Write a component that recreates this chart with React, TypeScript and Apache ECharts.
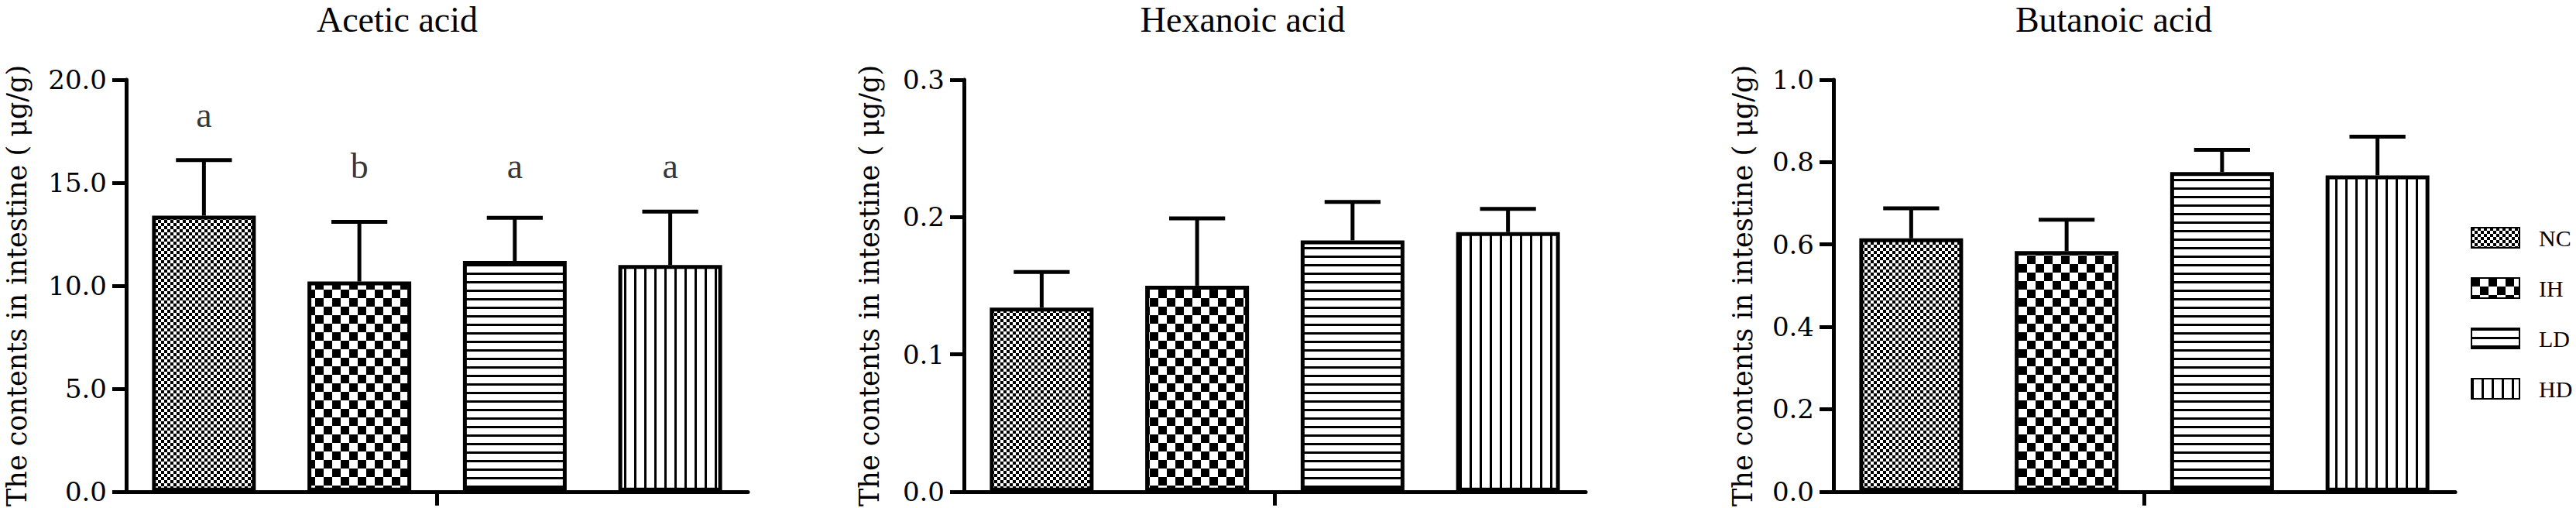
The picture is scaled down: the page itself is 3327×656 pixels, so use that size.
import React, { useEffect, useRef } from "react";
import * as echarts from "echarts";

// ---------- data ----------
const GROUPS = ["NC", "IH", "LD", "HD"];
const PANEL_TITLES = ["Acetic acid", "Hexanoic acid", "Butanoic acid"];
const Y_NAME = "The contents in intestine ( μg/g)";

const ACETIC_MEAN = [13.4, 10.2, 11.2, 11.0];
const ACETIC_SD = [2.7, 2.9, 2.1, 2.6];
const HEXANOIC_MEAN = [0.134, 0.15, 0.183, 0.189];
const HEXANOIC_SD = [0.026, 0.049, 0.028, 0.017];
const BUTANOIC_MEAN = [0.615, 0.584, 0.776, 0.768];
const BUTANOIC_SD = [0.073, 0.076, 0.054, 0.094];

const ACETIC_LETTERS = ["a", "b", "a", "a"];
const ACETIC_LETTER_Y = [18.3, 15.8, 15.8, 15.8];

const Y_MAX = [20, 0.3, 1.0];
const Y_INTERVAL = [5, 0.1, 0.2];

const FONT = "'Liberation Serif', 'Times New Roman', serif";
const WIDE_FONT = "'DejaVu Serif', 'Liberation Serif', serif";

function makePattern(w: number, h: number, draw: (ctx: CanvasRenderingContext2D) => void) {
  const c = document.createElement("canvas");
  c.width = w;
  c.height = h;
  const ctx = c.getContext("2d")!;
  ctx.fillStyle = "#fff";
  ctx.fillRect(0, 0, w, h);
  ctx.fillStyle = "#000";
  draw(ctx);
  return { image: c, repeat: "repeat", imageWidth: w, imageHeight: h } as any;
}

export default function App() {
  const ref = useRef<HTMLDivElement>(null);

  useEffect(() => {
    if (!ref.current) return;
    const chart = echarts.init(ref.current, undefined, { renderer: "svg" });

    const patterns = [
      makePattern(8, 8, (c) => {
        c.fillRect(0, 0, 4, 4);
        c.fillRect(4, 4, 4, 4);
      }),
      makePattern(22, 22, (c) => {
        c.fillRect(0, 0, 11, 11);
        c.fillRect(11, 11, 11, 11);
      }),
      makePattern(4, 11, (c) => {
        c.fillRect(0, 0, 4, 3);
      }),
      makePattern(13, 4, (c) => {
        c.fillRect(0, 0, 3, 4);
      }),
    ];

    const means = [ACETIC_MEAN, HEXANOIC_MEAN, BUTANOIC_MEAN];
    const sds = [ACETIC_SD, HEXANOIC_SD, BUTANOIC_SD];
    const gridLefts = [163, 1245, 2368];
    const nameGaps = [124, 105, 100];
    const titleCenters = [508, 1600, 2725];

    const grids = gridLefts.map((l) => ({ left: l, top: 103, width: 803, height: 534 }));

    const xAxes: any[] = [];
    const yAxes: any[] = [];
    const series: any[] = [];

    for (let p = 0; p < 3; p++) {
      xAxes.push({
        type: "category",
        gridIndex: p,
        data: GROUPS,
        position: "bottom",
        axisLine: { lineStyle: { color: "#000", width: 5 } },
        axisTick: { show: false },
        axisLabel: { show: false },
      });
      xAxes.push({
        type: "category",
        gridIndex: p,
        data: [""],
        position: "bottom",
        axisLine: { show: false },
        axisTick: { show: true, alignWithLabel: true, length: 18, lineStyle: { color: "#000", width: 5 } },
        axisLabel: { show: false },
      });
      yAxes.push({
        type: "value",
        gridIndex: p,
        min: 0,
        max: Y_MAX[p],
        interval: Y_INTERVAL[p],
        name: Y_NAME,
        nameLocation: "middle",
        nameGap: nameGaps[p],
        nameTextStyle: { fontFamily: WIDE_FONT, fontSize: 35, color: "#000" },
        axisLine: { show: true, lineStyle: { color: "#000", width: 5 } },
        axisTick: { show: true, length: 18, lineStyle: { color: "#000", width: 5 } },
        axisLabel: {
          fontFamily: WIDE_FONT,
          fontSize: 34,
          lineHeight: 30,
          color: "#000",
          margin: 25,
          formatter: (v: number) => v.toFixed(1),
        },
        splitLine: { show: false },
      });

      GROUPS.forEach((g, gi) => {
        series.push({
          type: "bar",
          name: g,
          xAxisIndex: p * 2,
          yAxisIndex: p,
          barWidth: 134,
          barGap: "-100%",
          data: GROUPS.map((_, k) => (k === gi ? means[p][k] : "-")),
          itemStyle: { color: patterns[gi], borderColor: "#000", borderWidth: 5 },
          emphasis: { disabled: true },
        });
      });

      series.push({
        type: "custom",
        xAxisIndex: p * 2,
        yAxisIndex: p,
        z: 5,
        data: GROUPS.map((_, k) => [k, means[p][k], means[p][k] + sds[p][k]]),
        renderItem: (params: any, api: any) => {
          const x = api.value(0);
          const p0 = api.coord([x, api.value(1)]);
          const p1 = api.coord([x, api.value(2)]);
          const half = api.size([1, 0])[0] * 0.18;
          const style = { stroke: "#000", lineWidth: 5 };
          return {
            type: "group",
            children: [
              { type: "line", shape: { x1: p0[0], y1: p0[1], x2: p1[0], y2: p1[1] }, style },
              { type: "line", shape: { x1: p1[0] - half, y1: p1[1], x2: p1[0] + half, y2: p1[1] }, style },
            ],
          };
        },
      });
    }

    series.push({
      type: "scatter",
      xAxisIndex: 0,
      yAxisIndex: 0,
      symbolSize: 0,
      data: ACETIC_LETTERS.map((_, k) => [k, ACETIC_LETTER_Y[k]]),
      label: {
        show: true,
        position: "inside",
        formatter: (pr: any) => ACETIC_LETTERS[pr.dataIndex],
        fontFamily: FONT,
        fontSize: 46,
        color: "#000",
      },
      emphasis: { disabled: true },
    });

    chart.setOption({
      animation: false,
      backgroundColor: "#fff",
      title: PANEL_TITLES.map((t, i) => ({
        text: t,
        left: titleCenters[i],
        top: -3,
        textAlign: "center",
        textStyle: { fontFamily: FONT, fontSize: 46, fontWeight: "normal", color: "#000" },
      })),
      legend: {
        data: GROUPS,
        orient: "vertical",
        left: 3186,
        top: 287,
        itemWidth: 62,
        itemHeight: 26,
        itemGap: 35,
        selectedMode: false,
        icon: "rect",
        textStyle: { fontFamily: FONT, fontSize: 30, color: "#000", padding: [0, 0, 0, 20] },
      },
      grid: grids,
      xAxis: xAxes,
      yAxis: yAxes,
      series,
    });

    return () => chart.dispose();
  }, []);

  return (
    <div
      ref={ref}
      style={{ position: "fixed", left: 0, top: 0, width: 3327, height: 656, background: "#fff" }}
    />
  );
}
